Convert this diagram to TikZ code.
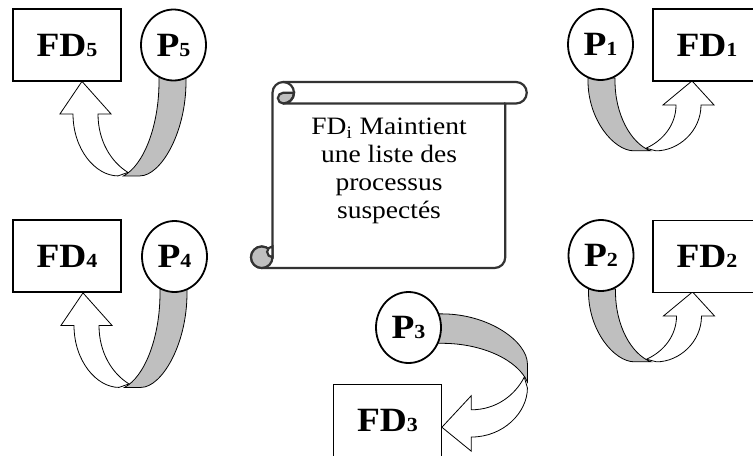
\documentclass[tikz,border=0pt]{standalone}
\usepackage{fontspec}
\setmainfont{Liberation Serif}[FakeStretch=1.1]
\usetikzlibrary{shapes.geometric,backgrounds}

\newcommand{\subdig}[1]{{\fontsize{10}{10}\selectfont #1}}
% u-turn arrow, local frame: origin at the process node, tip on the left
\newcommand{\uturn}{%
  \filldraw[back band] (-14.5,-4) -- (12.5,-4) -- (12.5,0)
    .. controls (12.5,52) and (-13,94.5) .. (-33.5,94.5) -- (-50,94.5)
    .. controls (-30,84) and (-14.5,45) .. (-14.5,0) -- cycle;
  \filldraw[front band] (-100.5,32.5)
    .. controls (-100.5,68) and (-78,94.5) .. (-55.5,94.5) -- (-45.5,91)
    .. controls (-62,81) and (-75.5,60) .. (-75.5,32.5)
    -- (-62.5,32.5) -- (-91.5,0) -- (-113.5,32.5) -- cycle;
}

\begin{document}
\begin{tikzpicture}[
    x=0.5pt,y=-0.5pt,line width=0.9pt,
    fdbox/.style={draw,fill=white,rectangle,minimum width=54pt,minimum height=36pt,
      inner sep=0pt,font=\bfseries\fontsize{17}{17}\selectfont},
    proc/.style={draw,fill=white,ellipse,minimum width=32.5pt,minimum height=35.5pt,
      inner sep=0pt,font=\bfseries\fontsize{17}{17}\selectfont},
    back band/.style={fill=band,draw=black},
    front band/.style={fill=white,draw=black},
    scroll/.style={draw=black!80,line width=1.1pt}
  ]
  \colorlet{band}{black!25}
  \path[use as bounding box,clip] (0,0) rectangle (753,455);

  \node[fdbox] (fd5) at (67,45) {FD\subdig{5}};
  \node[proc] (p5) at (173.5,45) {P\subdig{5}};
  \node[fdbox] (fd4) at (67,256) {FD\subdig{4}};
  \node[proc] (p4) at (174.5,256.5) {P\subdig{4}};
  \node[proc] (p1) at (600.5,44.5) {P\subdig{1}};
  \node[fdbox] (fd1) at (707,45) {FD\subdig{1}};
  \node[proc] (p2) at (601,255.5) {P\subdig{2}};
  \node[fdbox] (fd2) at (707,256.5) {FD\subdig{2}};
  \node[proc] (p3) at (408.5,327.5) {P\subdig{3}};
  \node[fdbox] (fd3) at (387.5,420.5) {FD\subdig{3}};

  \begin{pgfonlayer}{background}
    \foreach \p/\sx/\sy in {p5/1/1,p4/1/1,p1/-1/0.74,p2/-1/0.74}
    {
      \begin{scope}[shift={(\p.south)},xscale=\sx,yscale=\sy]
        \uturn
      \end{scope}
    }
    \begin{scope}[shift={(p3.east)},rotate=90,xscale=1.09,yscale=0.905]
      \uturn
    \end{scope}
  \end{pgfonlayer}

  % the scroll
  \filldraw[scroll,fill=white] (272.5,92.75) arc[start angle=180,end angle=90,radius=5.375pt]
    -- (516,82) arc[start angle=90,end angle=-90,radius=5.375pt]
    -- (505.25,103.5) -- (505.25,257.25) arc[start angle=0,end angle=-90,radius=5.375pt]
    -- (261.75,268) arc[start angle=-90,end angle=-360,radius=5.375pt] -- cycle;
  \filldraw[scroll,fill=band] (261.75,257.25) circle[radius=5.375pt];
  \filldraw[scroll,fill=white] (272.5,246.5) arc[start angle=90,end angle=270,radius=2.6875pt] -- cycle;
  \filldraw[scroll,fill=band] (283.25,92.75) -- (294,92.75)
    arc[start angle=0,end angle=-90,radius=5.375pt]
    arc[start angle=-90,end angle=-270,radius=2.6875pt] -- cycle;
  \draw[scroll] (283.25,82) arc[start angle=90,end angle=-90,radius=5.375pt] -- (505.25,103.5);
  \node[align=center,font=\fontsize{12.5}{14}\selectfont] (note) at (389,171)
    {FD\textsubscript{i} Maintient\\une liste des\\processus\\suspectés};
\end{tikzpicture}
\end{document}
